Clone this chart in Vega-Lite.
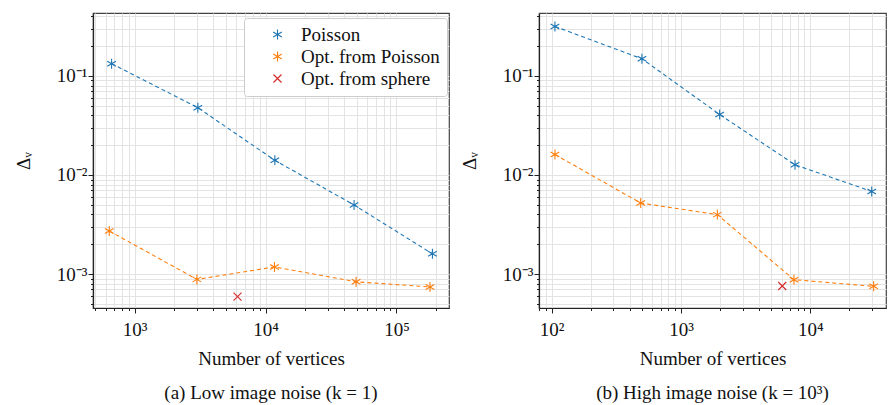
{
  "$schema": "https://vega.github.io/schema/vega-lite/v6.json",
  "padding": {"left": 13, "top": 6, "right": 0, "bottom": 0},
  "background": "white",
  "spacing": 9,
  "config": {
    "font": "Liberation Serif",
    "view": {"stroke": "#444", "strokeWidth": 1.2},
    "axis": {
      "grid": true,
      "gridColor": "#e3e3e3",
      "gridWidth": 1,
      "domainColor": "#222",
      "domainWidth": 1.2,
      "tickColor": "#222",
      "tickWidth": 1,
      "tickSize": {"condition": {"test": "abs(log(datum.value)/LN10 - round(log(datum.value)/LN10)) < 0.001", "value": 5}, "value": 2.5},
      "labelFont": "Liberation Serif",
      "titleFont": "Liberation Serif",
      "labelFontSize": 19,
      "labelColor": "#111",
      "labelPadding": 1,
      "labelOverlap": false,
      "labelFlush": false,
      "titleFontSize": 19,
      "titleFontWeight": "normal",
      "titleColor": "#111"
    },
    "title": {"font": "Liberation Serif", "fontSize": 19, "fontWeight": "normal", "color": "#111", "orient": "bottom", "anchor": "middle"},
    "legend": {"labelFont": "Liberation Serif", "labelFontSize": 19, "labelColor": "#111"}
  },
  "datasets": {
    "pts": [
      {"panel": "a", "series": "Poisson", "n": 667, "dv": 0.133},
      {"panel": "a", "series": "Poisson", "n": 3041, "dv": 0.0478},
      {"panel": "a", "series": "Poisson", "n": 11780, "dv": 0.01406},
      {"panel": "a", "series": "Poisson", "n": 47450, "dv": 0.00498},
      {"panel": "a", "series": "Poisson", "n": 188300, "dv": 0.0016},
      {"panel": "a", "series": "Opt. from Poisson", "n": 640, "dv": 0.00272},
      {"panel": "a", "series": "Opt. from Poisson", "n": 2990, "dv": 0.000883},
      {"panel": "a", "series": "Opt. from Poisson", "n": 11710, "dv": 0.00118},
      {"panel": "a", "series": "Opt. from Poisson", "n": 49200, "dv": 0.000835},
      {"panel": "a", "series": "Opt. from Poisson", "n": 180400, "dv": 0.00074},
      {"panel": "a", "series": "Opt. from sphere", "n": 6110, "dv": 0.00059},
      {"panel": "b", "series": "Poisson", "n": 106, "dv": 0.316},
      {"panel": "b", "series": "Poisson", "n": 499, "dv": 0.149},
      {"panel": "b", "series": "Poisson", "n": 1991, "dv": 0.0408},
      {"panel": "b", "series": "Poisson", "n": 7620, "dv": 0.01268},
      {"panel": "b", "series": "Poisson", "n": 29850, "dv": 0.00682},
      {"panel": "b", "series": "Opt. from Poisson", "n": 106, "dv": 0.0161},
      {"panel": "b", "series": "Opt. from Poisson", "n": 488, "dv": 0.00521},
      {"panel": "b", "series": "Opt. from Poisson", "n": 1910, "dv": 0.00398},
      {"panel": "b", "series": "Opt. from Poisson", "n": 7480, "dv": 0.000877},
      {"panel": "b", "series": "Opt. from Poisson", "n": 30900, "dv": 0.000752},
      {"panel": "b", "series": "Opt. from sphere", "n": 6070, "dv": 0.000757}
    ]
  },
  "hconcat": [
    {
      "width": 356,
      "height": 295,
      "data": {"name": "pts"},
      "transform": [{"filter": "datum.panel == 'a'"}],
      "title": {"text": "(a) Low image noise (k = 1)", "offset": 16},
      "encoding": {
        "x": {
          "field": "n", "type": "quantitative",
          "scale": {"type": "log", "domain": [481, 252000], "nice": false},
          "axis": {
            "title": "Number of vertices",
            "titlePadding": 10,
            "labelPadding": 7,
            "values": [500, 600, 700, 800, 900, 1000, 2000, 3000, 4000, 5000, 6000, 7000, 8000, 9000, 10000, 20000, 30000, 40000, 50000, 60000, 70000, 80000, 90000, 100000, 200000],
            "labelExpr": "datum.value == 1000 ? '10³' : datum.value == 10000 ? '10⁴' : datum.value == 100000 ? '10⁵' : ''"
          }
        },
        "y": {
          "field": "dv", "type": "quantitative",
          "scale": {"type": "log", "domain": [0.000454, 0.432], "nice": false},
          "axis": {
            "title": "Δᵥ",
            "titlePadding": 23,
            "values": [0.0005, 0.0006, 0.0007, 0.0008, 0.0009, 0.001, 0.002, 0.003, 0.004, 0.005, 0.006, 0.007, 0.008, 0.009, 0.01, 0.02, 0.03, 0.04, 0.05, 0.06, 0.07, 0.08, 0.09, 0.1, 0.2, 0.3, 0.4],
            "labelExpr": "datum.value == 0.1 ? '10⁻¹' : datum.value == 0.01 ? '10⁻²' : datum.value == 0.001 ? '10⁻³' : ''"
          }
        }
      },
      "layer": [
        {
          "transform": [{"filter": "datum.series != 'Opt. from sphere'"}],
          "mark": {"type": "line", "strokeDash": [4, 3], "strokeWidth": 1.1},
          "encoding": {
            "stroke": {"field": "series", "type": "nominal", "legend": null,
              "scale": {"domain": ["Poisson", "Opt. from Poisson"], "range": ["#1f77b4", "#ff7f0e"]}}
          }
        },
        {
          "mark": {"type": "point", "filled": false, "size": 100, "strokeWidth": 1.1, "opacity": 1},
          "encoding": {
            "color": {"field": "series", "type": "nominal",
              "scale": {"domain": ["Poisson", "Opt. from Poisson", "Opt. from sphere"], "range": ["#1f77b4", "#ff7f0e", "#d62728"]},
              "legend": {
                "title": null, "orient": "none", "legendX": 151, "legendY": 5,
                "padding": 7, "strokeColor": "#cccccc", "fillColor": "white", "cornerRadius": 3,
                "symbolSize": 100, "symbolStrokeWidth": 1.1, "symbolOffset": 17, "labelOffset": 14, "rowPadding": 2
              }},
            "shape": {"field": "series", "type": "nominal",
              "scale": {"domain": ["Poisson", "Opt. from Poisson", "Opt. from sphere"], "range": ["M0,-1L0,1M-0.866,-0.5L0.866,0.5M-0.866,0.5L0.866,-0.5", "M0,-1L0,1M-0.866,-0.5L0.866,0.5M-0.866,0.5L0.866,-0.5", "M-0.8,-0.8L0.8,0.8M-0.8,0.8L0.8,-0.8"]},
              "legend": {
                "title": null, "orient": "none", "legendX": 151, "legendY": 5,
                "padding": 7, "strokeColor": "#cccccc", "fillColor": "white", "cornerRadius": 3,
                "symbolSize": 100, "symbolStrokeWidth": 1.1, "symbolOffset": 17, "labelOffset": 14, "rowPadding": 2
              }}
          }
        }
      ]
    },
    {
      "width": 347,
      "height": 295,
      "data": {"name": "pts"},
      "transform": [{"filter": "datum.panel == 'b'"}],
      "title": {"text": "(b) High image noise (k = 10³)", "offset": 16},
      "encoding": {
        "x": {
          "field": "n", "type": "quantitative",
          "scale": {"type": "log", "domain": [79.8, 38500], "nice": false},
          "axis": {
            "title": "Number of vertices",
            "titlePadding": 10,
            "labelPadding": 7,
            "values": [80, 90, 100, 200, 300, 400, 500, 600, 700, 800, 900, 1000, 2000, 3000, 4000, 5000, 6000, 7000, 8000, 9000, 10000, 20000, 30000],
            "labelExpr": "datum.value == 100 ? '10²' : datum.value == 1000 ? '10³' : datum.value == 10000 ? '10⁴' : ''"
          }
        },
        "y": {
          "field": "dv", "type": "quantitative",
          "scale": {"type": "log", "domain": [0.000454, 0.432], "nice": false},
          "axis": {
            "title": "Δᵥ",
            "titlePadding": 23,
            "values": [0.0005, 0.0006, 0.0007, 0.0008, 0.0009, 0.001, 0.002, 0.003, 0.004, 0.005, 0.006, 0.007, 0.008, 0.009, 0.01, 0.02, 0.03, 0.04, 0.05, 0.06, 0.07, 0.08, 0.09, 0.1, 0.2, 0.3, 0.4],
            "labelExpr": "datum.value == 0.1 ? '10⁻¹' : datum.value == 0.01 ? '10⁻²' : datum.value == 0.001 ? '10⁻³' : ''"
          }
        }
      },
      "layer": [
        {
          "transform": [{"filter": "datum.series != 'Opt. from sphere'"}],
          "mark": {"type": "line", "strokeDash": [4, 3], "strokeWidth": 1.1},
          "encoding": {
            "stroke": {"field": "series", "type": "nominal", "legend": null,
              "scale": {"domain": ["Poisson", "Opt. from Poisson"], "range": ["#1f77b4", "#ff7f0e"]}}
          }
        },
        {
          "mark": {"type": "point", "filled": false, "size": 100, "strokeWidth": 1.1, "opacity": 1},
          "encoding": {
            "color": {"field": "series", "type": "nominal",
              "scale": {"domain": ["Poisson", "Opt. from Poisson", "Opt. from sphere"], "range": ["#1f77b4", "#ff7f0e", "#d62728"]}},
            "shape": {"field": "series", "type": "nominal",
              "scale": {"domain": ["Poisson", "Opt. from Poisson", "Opt. from sphere"], "range": ["M0,-1L0,1M-0.866,-0.5L0.866,0.5M-0.866,0.5L0.866,-0.5", "M0,-1L0,1M-0.866,-0.5L0.866,0.5M-0.866,0.5L0.866,-0.5", "M-0.8,-0.8L0.8,0.8M-0.8,0.8L0.8,-0.8"]}}
          }
        }
      ]
    }
  ]
}
